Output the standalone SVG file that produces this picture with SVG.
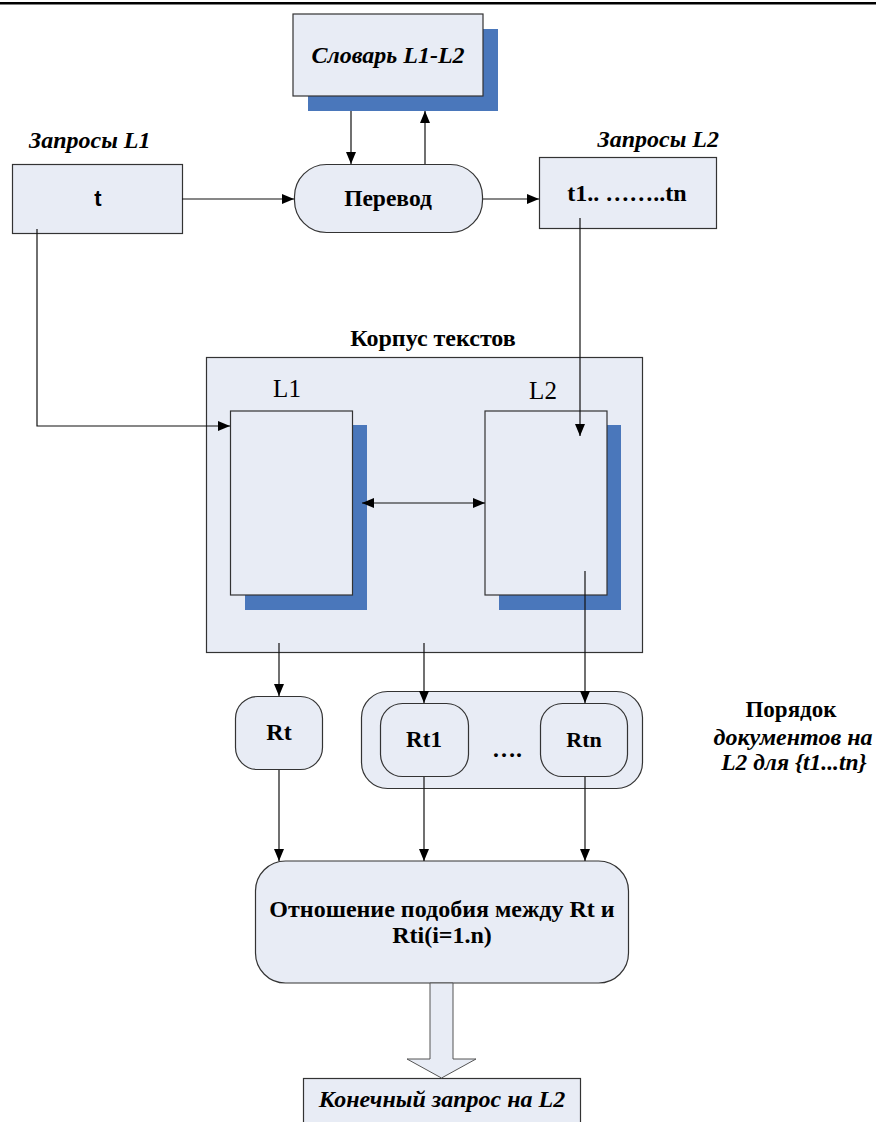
<svg xmlns="http://www.w3.org/2000/svg" width="876" height="1122" viewBox="0 0 876 1122">
<style>
.box{fill:#e8ecf5;stroke:#333;stroke-width:1.2}
.sh{fill:#4a77bb}
.ln{fill:none;stroke:#111;stroke-width:1.2}
.bs{font-family:"Liberation Serif","Times New Roman",serif;font-weight:bold;fill:#000}
.bi{font-family:"Liberation Serif","Times New Roman",serif;font-weight:bold;font-style:italic;fill:#000}
.rs{font-family:"Liberation Serif","Times New Roman",serif;fill:#000}
</style>
<defs>
<marker id="ah" markerUnits="userSpaceOnUse" markerWidth="14" markerHeight="10" refX="12" refY="5" orient="auto">
<path d="M0,0 L12,5 L0,10 z" fill="#000"/>
</marker>
<marker id="as" markerUnits="userSpaceOnUse" markerWidth="14" markerHeight="10" refX="0" refY="5" orient="auto">
<path d="M12,0 L0,5 L12,10 z" fill="#000"/>
</marker>
</defs>
<rect x="0" y="2" width="876" height="2.5" fill="#000"/>
<g id="dict">
<rect class="sh" x="308" y="29" width="190" height="82"/>
<rect class="box" x="293" y="14" width="190" height="82"/>
<text class="bi" x="388" y="63" font-size="24" text-anchor="middle">Словарь L1-L2</text>
</g>
<g id="queries-l1">
<text class="bi" x="29" y="148" font-size="24">Запросы L1</text>
<rect class="box" x="12.5" y="164.5" width="170" height="69"/>
<text x="98" y="206" font-family="Liberation Sans, Arial, sans-serif" font-weight="bold" font-size="22" text-anchor="middle">t</text>
</g>
<g id="translate">
<rect class="box" x="294.5" y="164.5" width="188" height="68" rx="32"/>
<text class="bs" x="388" y="206" font-size="23.5" text-anchor="middle">Перевод</text>
</g>
<g id="queries-l2">
<text class="bi" x="719" y="147" font-size="24" text-anchor="end">Запросы L2</text>
<rect class="box" x="539.5" y="157.5" width="177" height="71"/>
<text class="bs" x="627" y="201" font-size="24" text-anchor="middle">t1.. ……..tn</text>
</g>
<g id="corpus">
<text class="bs" x="433" y="346" font-size="24" text-anchor="middle">Корпус текстов</text>
<rect class="box" x="206.5" y="357.5" width="436" height="295"/>
<text class="rs" x="287" y="397" font-size="25" text-anchor="middle">L1</text>
<text class="rs" x="543" y="399" font-size="25" text-anchor="middle">L2</text>
</g>
<g id="doc-l1">
<rect class="sh" x="245" y="425" width="122" height="185"/>
<rect class="box" x="230.5" y="411" width="122" height="184"/>
</g>
<g id="doc-l2">
<rect class="sh" x="499" y="425" width="122" height="185"/>
<rect class="box" x="485" y="411" width="122" height="184"/>
</g>
<g id="rt">
<rect class="box" x="235.5" y="696.5" width="87" height="73" rx="22"/>
<text class="bs" x="279" y="740" font-size="24" text-anchor="middle">Rt</text>
</g>
<g id="rt-group">
<rect class="box" x="361.5" y="691.5" width="281" height="97" rx="26"/>
<rect class="box" x="380.5" y="703.5" width="88" height="73" rx="22"/>
<text class="bs" x="424" y="747" font-size="23" text-anchor="middle">Rt1</text>
<text class="bs" x="507" y="757" font-size="24" text-anchor="middle">….</text>
<rect class="box" x="540.5" y="703.5" width="87" height="73" rx="22"/>
<text class="bs" x="584" y="747" font-size="22" text-anchor="middle">Rtn</text>
</g>
<g id="order-label">
<text class="bs" x="791" y="717" font-size="23" text-anchor="middle">Порядок</text>
<text class="bi" x="793" y="745" font-size="24" text-anchor="middle">документов на</text>
<text class="bi" x="794" y="770" font-size="23.5" text-anchor="middle">L2 для {t1...tn}</text>
</g>
<g id="similarity">
<rect class="box" x="255.5" y="861" width="373" height="122" rx="30"/>
<text class="bs" x="442" y="917" font-size="24" text-anchor="middle">Отношение подобия между Rt и</text>
<text class="bs" x="442" y="943" font-size="24" text-anchor="middle">Rti(i=1.n)</text>
</g>
<g id="final">
<rect class="box" x="303.5" y="1078.5" width="277" height="60"/>
<text class="bi" x="442" y="1107" font-size="24" text-anchor="middle">Конечный запрос на L2</text>
</g>
<g id="connectors">
<line class="ln" x1="351" y1="111" x2="351" y2="164" marker-end="url(#ah)"/>
<line class="ln" x1="425" y1="164" x2="425" y2="111" marker-end="url(#ah)"/>
<line class="ln" x1="182" y1="199" x2="294" y2="199" marker-end="url(#ah)"/>
<line class="ln" x1="483" y1="199" x2="539" y2="199" marker-end="url(#ah)"/>
<polyline class="ln" points="37,229 37,426 230,426" marker-end="url(#ah)"/>
<line class="ln" x1="580" y1="218" x2="580" y2="436" marker-end="url(#ah)"/>
<line class="ln" x1="362" y1="503" x2="485" y2="503" marker-start="url(#as)" marker-end="url(#ah)"/>
<line class="ln" x1="279" y1="643" x2="279" y2="696" marker-end="url(#ah)"/>
<line class="ln" x1="424" y1="643" x2="424" y2="703" marker-end="url(#ah)"/>
<line class="ln" x1="585" y1="571" x2="585" y2="703" marker-end="url(#ah)"/>
<line class="ln" x1="279" y1="770" x2="279" y2="861" marker-end="url(#ah)"/>
<line class="ln" x1="424" y1="777" x2="424" y2="861" marker-end="url(#ah)"/>
<line class="ln" x1="585" y1="777" x2="585" y2="861" marker-end="url(#ah)"/>
<polygon points="430,983 453,983 453,1059 476,1059 441.5,1078 407,1059 430,1059" fill="#e8ecf5" stroke="#555" stroke-width="1"/>
</g>
</svg>
